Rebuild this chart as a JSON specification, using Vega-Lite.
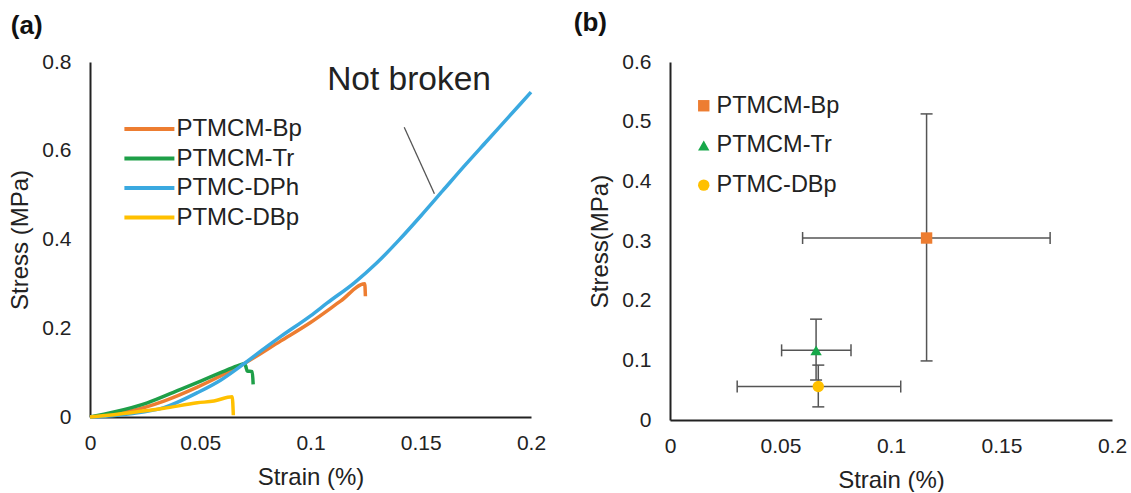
{
  "$schema": "https://vega.github.io/schema/vega-lite/v6.json",
  "padding": {"left": 8, "top": 10, "right": 5, "bottom": 0},
  "spacing": 27,
  "resolve": {"scale": {"color": "independent", "shape": "independent"}, "legend": {"color": "independent", "shape": "independent"}},
  "config": {
    "font": "Liberation Sans",
    "view": {"stroke": null},
    "axis": {
      "domainColor": "#222222", "domainWidth": 2, "ticks": false, "grid": false,
      "labelFontSize": 21, "labelColor": "#222222", "titleFontSize": 24,
      "titleFontWeight": "normal", "titleColor": "#222222", "labelFont": "Liberation Sans", "titleFont": "Liberation Sans"
    },
    "axisX": {"labelPadding": 15, "titlePadding": 12, "labelFlush": false},
    "axisY": {"labelPadding": 19, "titlePadding": 9, "labelFlush": false},
    "legend": {"padding": 0, "labelColor": "#222222", "labelFont": "Liberation Sans"}
  },
  "hconcat": [
    {
      "width": 441, "height": 355,
      "title": {"text": "(a)", "anchor": "start", "frame": "bounds", "fontSize": 26, "fontWeight": "bold", "color": "#111111", "dx": 2, "offset": 12},
      "layer": [
        {
          "data": {"values": [
            {"s": "PTMCM-Bp", "i": 0, "x": 0, "y": 0},
            {"s": "PTMCM-Bp", "i": 1, "x": 0.0184, "y": 0.0135},
            {"s": "PTMCM-Bp", "i": 2, "x": 0.0335, "y": 0.036},
            {"s": "PTMCM-Bp", "i": 3, "x": 0.0487, "y": 0.0675},
            {"s": "PTMCM-Bp", "i": 4, "x": 0.0592, "y": 0.0923},
            {"s": "PTMCM-Bp", "i": 5, "x": 0.0698, "y": 0.120},
            {"s": "PTMCM-Bp", "i": 6, "x": 0.0864, "y": 0.171},
            {"s": "PTMCM-Bp", "i": 7, "x": 0.1000, "y": 0.213},
            {"s": "PTMCM-Bp", "i": 8, "x": 0.1136, "y": 0.261},
            {"s": "PTMCM-Bp", "i": 9, "x": 0.1246, "y": 0.300},
            {"s": "PTMCM-Bp", "i": 10, "x": 0.1249, "y": 0.272},
            {"s": "PTMCM-Tr", "i": 0, "x": 0, "y": 0},
            {"s": "PTMCM-Tr", "i": 1, "x": 0.0109, "y": 0.0113},
            {"s": "PTMCM-Tr", "i": 2, "x": 0.026, "y": 0.032},
            {"s": "PTMCM-Tr", "i": 3, "x": 0.0411, "y": 0.0624},
            {"s": "PTMCM-Tr", "i": 4, "x": 0.0502, "y": 0.081},
            {"s": "PTMCM-Tr", "i": 5, "x": 0.0592, "y": 0.0998},
            {"s": "PTMCM-Tr", "i": 6, "x": 0.0668, "y": 0.115},
            {"s": "PTMCM-Tr", "i": 7, "x": 0.0698, "y": 0.120},
            {"s": "PTMCM-Tr", "i": 8, "x": 0.0706, "y": 0.115},
            {"s": "PTMCM-Tr", "i": 9, "x": 0.0713, "y": 0.1036},
            {"s": "PTMCM-Tr", "i": 10, "x": 0.0736, "y": 0.1021},
            {"s": "PTMCM-Tr", "i": 11, "x": 0.0740, "y": 0.0736},
            {"s": "PTMC-DPh", "i": 0, "x": 0, "y": 0},
            {"s": "PTMC-DPh", "i": 1, "x": 0.010, "y": 0.003},
            {"s": "PTMC-DPh", "i": 2, "x": 0.0184, "y": 0.0075},
            {"s": "PTMC-DPh", "i": 3, "x": 0.0335, "y": 0.021},
            {"s": "PTMC-DPh", "i": 4, "x": 0.0487, "y": 0.0548},
            {"s": "PTMC-DPh", "i": 5, "x": 0.0592, "y": 0.083},
            {"s": "PTMC-DPh", "i": 6, "x": 0.0698, "y": 0.120},
            {"s": "PTMC-DPh", "i": 7, "x": 0.080, "y": 0.158},
            {"s": "PTMC-DPh", "i": 8, "x": 0.0864, "y": 0.181},
            {"s": "PTMC-DPh", "i": 9, "x": 0.100, "y": 0.228},
            {"s": "PTMC-DPh", "i": 10, "x": 0.1076, "y": 0.257},
            {"s": "PTMC-DPh", "i": 11, "x": 0.120, "y": 0.303},
            {"s": "PTMC-DPh", "i": 12, "x": 0.130, "y": 0.347},
            {"s": "PTMC-DPh", "i": 13, "x": 0.140, "y": 0.398},
            {"s": "PTMC-DPh", "i": 14, "x": 0.150, "y": 0.453},
            {"s": "PTMC-DPh", "i": 15, "x": 0.160, "y": 0.510},
            {"s": "PTMC-DPh", "i": 16, "x": 0.170, "y": 0.567},
            {"s": "PTMC-DPh", "i": 17, "x": 0.180, "y": 0.622},
            {"s": "PTMC-DPh", "i": 18, "x": 0.190, "y": 0.677},
            {"s": "PTMC-DPh", "i": 19, "x": 0.200, "y": 0.732},
            {"s": "PTMC-DBp", "i": 0, "x": 0, "y": 0},
            {"s": "PTMC-DBp", "i": 1, "x": 0.0184, "y": 0.0098},
            {"s": "PTMC-DBp", "i": 2, "x": 0.0335, "y": 0.0195},
            {"s": "PTMC-DBp", "i": 3, "x": 0.0487, "y": 0.032},
            {"s": "PTMC-DBp", "i": 4, "x": 0.0562, "y": 0.036},
            {"s": "PTMC-DBp", "i": 5, "x": 0.0645, "y": 0.0458},
            {"s": "PTMC-DBp", "i": 6, "x": 0.0650, "y": 0.004}
          ]},
          "mark": {"type": "line", "strokeWidth": 3.5, "strokeCap": "butt", "strokeJoin": "round", "interpolate": "monotone"},
          "encoding": {
            "x": {"field": "x", "type": "quantitative", "title": "Strain (%)",
                  "scale": {"domain": [0, 0.2], "nice": false},
                  "axis": {"values": [0, 0.05, 0.1, 0.15, 0.2], "format": "~g"}},
            "y": {"field": "y", "type": "quantitative", "title": "Stress (MPa)",
                  "scale": {"domain": [0, 0.8], "nice": false},
                  "axis": {"values": [0, 0.2, 0.4, 0.6, 0.8], "format": "~g"}},
            "color": {"field": "s", "type": "nominal",
                      "scale": {"domain": ["PTMCM-Bp", "PTMCM-Tr", "PTMC-DPh", "PTMC-DBp"],
                                "range": ["#ED7D31", "#1E9F48", "#3AA9E0", "#FFC000"]},
                      "legend": {"title": null, "orient": "none", "legendX": 47.4, "legendY": 55,
                                 "symbolType": "M-2.5,0H2.5", "symbolSize": 400, "symbolStrokeWidth": 4,
                                 "labelFontSize": 24, "rowPadding": 5.5, "labelOffset": 15}},
            "order": {"field": "i", "type": "quantitative"}
          }
        },
        {
          "data": {"values": [{"x1": 0.1425, "y1": 0.653, "x2": 0.1562, "y2": 0.503}]},
          "mark": {"type": "rule", "color": "#555555", "strokeWidth": 1.3},
          "encoding": {
            "x": {"field": "x1", "type": "quantitative"},
            "y": {"field": "y1", "type": "quantitative"},
            "x2": {"field": "x2"},
            "y2": {"field": "y2"}
          }
        },
        {
          "data": {"values": [{"x": 0.1447, "y": 0.736, "label": "Not broken"}]},
          "mark": {"type": "text", "fontSize": 33.5, "color": "#222222", "align": "center", "baseline": "alphabetic", "font": "Liberation Sans"},
          "encoding": {
            "x": {"field": "x", "type": "quantitative"},
            "y": {"field": "y", "type": "quantitative"},
            "text": {"field": "label"}
          }
        }
      ]
    },
    {
      "width": 442, "height": 358,
      "title": {"text": "(b)", "anchor": "start", "frame": "bounds", "fontSize": 26, "fontWeight": "bold", "color": "#111111", "dx": -15, "offset": 14.6},
      "data": {"values": [
        {"s": "PTMCM-Bp", "x": 0.1161, "y": 0.305, "xlo": 0.060, "xhi": 0.172, "ylo": 0.099, "yhi": 0.513},
        {"s": "PTMCM-Tr", "x": 0.0661, "y": 0.1167, "xlo": 0.0505, "xhi": 0.0819, "ylo": 0.067, "yhi": 0.169},
        {"s": "PTMC-DBp", "x": 0.0671, "y": 0.0561, "xlo": 0.0304, "xhi": 0.1044, "ylo": 0.022, "yhi": 0.092}
      ]},
      "encoding": {
        "x": {"type": "quantitative", "title": "Strain (%)",
              "scale": {"domain": [0, 0.2], "nice": false},
              "axis": {"values": [0, 0.05, 0.1, 0.15, 0.2], "format": "~g"}},
        "y": {"type": "quantitative", "title": "Stress(MPa)",
              "scale": {"domain": [0, 0.6], "nice": false},
              "axis": {"values": [0, 0.1, 0.2, 0.3, 0.4, 0.5, 0.6], "format": "~g"}}
      },
      "layer": [
        {
          "mark": {"type": "rule", "color": "#555555", "strokeWidth": 1.5},
          "encoding": {"x": {"field": "xlo"}, "x2": {"field": "xhi"}, "y": {"field": "y"}}
        },
        {
          "mark": {"type": "rule", "color": "#555555", "strokeWidth": 1.5},
          "encoding": {"x": {"field": "x"}, "y": {"field": "ylo"}, "y2": {"field": "yhi"}}
        },
        {
          "mark": {"type": "tick", "orient": "vertical", "color": "#555555", "size": 12, "thickness": 1.5, "opacity": 1},
          "encoding": {"x": {"field": "xlo"}, "y": {"field": "y"}}
        },
        {
          "mark": {"type": "tick", "orient": "vertical", "color": "#555555", "size": 12, "thickness": 1.5, "opacity": 1},
          "encoding": {"x": {"field": "xhi"}, "y": {"field": "y"}}
        },
        {
          "mark": {"type": "tick", "orient": "horizontal", "color": "#555555", "size": 12, "thickness": 1.5, "opacity": 1},
          "encoding": {"x": {"field": "x"}, "y": {"field": "ylo"}}
        },
        {
          "mark": {"type": "tick", "orient": "horizontal", "color": "#555555", "size": 12, "thickness": 1.5, "opacity": 1},
          "encoding": {"x": {"field": "x"}, "y": {"field": "yhi"}}
        },
        {
          "mark": {"type": "point", "filled": true, "opacity": 1, "size": 130},
          "encoding": {
            "x": {"field": "x"},
            "y": {"field": "y"},
            "color": {"field": "s", "type": "nominal",
                      "scale": {"domain": ["PTMCM-Bp", "PTMCM-Tr", "PTMC-DBp"], "range": ["#ED7D31", "#17A84A", "#FFC000"]},
                      "legend": {"title": null, "orient": "none", "legendX": 22, "legendY": 32,
                                 "symbolSize": 130, "labelFontSize": 23.5, "rowPadding": 14.7, "labelOffset": 1, "symbolOpacity": 1}},
            "shape": {"field": "s", "type": "nominal",
                      "scale": {"domain": ["PTMCM-Bp", "PTMCM-Tr", "PTMC-DBp"], "range": ["square", "triangle-up", "circle"]},
                      "legend": {"title": null, "orient": "none", "legendX": 22, "legendY": 32,
                                 "symbolSize": 130, "labelFontSize": 23.5, "rowPadding": 14.7, "labelOffset": 1, "symbolOpacity": 1}}
          }
        }
      ]
    }
  ]
}
